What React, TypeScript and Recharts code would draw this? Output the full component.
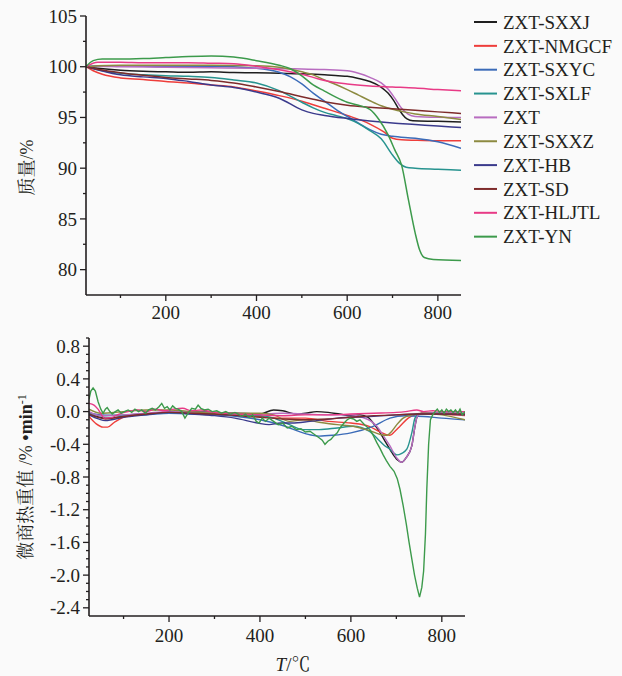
import React from 'react';
import { LineChart, Line, XAxis, YAxis, Legend } from 'recharts';

type Pt = [number, number];

// ---------- names ----------
const NAMES = ['ZXT-SXXJ', 'ZXT-NMGCF', 'ZXT-SXYC', 'ZXT-SXLF', 'ZXT', 'ZXT-SXXZ', 'ZXT-HB', 'ZXT-SD', 'ZXT-HLJTL', 'ZXT-YN'];
const COLORS = ['#1e1e1e', '#ee3d3a', '#3b6bb8', '#27938f', '#b86cc0', '#8c8a40', '#3a3a8c', '#7e2b2b', '#e83a86', '#3c9a4b'];

// ---------- ticks ----------
const TEMP_TICKS = [100, 200, 300, 400, 500, 600, 700, 800];
const TG_TICKS = [80, 82.5, 85, 87.5, 90, 92.5, 95, 97.5, 100, 102.5, 105];
const DTG_TICKS = [0.9, 0.8, 0.7, 0.6, 0.5, 0.4, 0.3, 0.2, 0.1, 0, -0.1, -0.2, -0.3, -0.4, -0.5, -0.6, -0.7, -0.8, -0.9, -1.0, -1.1, -1.2, -1.3, -1.4, -1.5, -1.6, -1.7, -1.8, -1.9, -2.0, -2.1, -2.2, -2.3, -2.4];

// ---------- TG: [T, mass %] ----------
const TG_SXXJ: Pt[] = [[24, 100], [50, 99.85], [100, 99.65], [150, 99.55], [200, 99.5], [250, 99.45], [300, 99.5], [350, 99.42], [400, 99.4], [450, 99.35], [500, 99.3], [550, 99.2], [580, 99.1], [600, 99.05], [625, 98.85], [650, 98.55], [673, 98.05], [690, 97.4], [702, 96.7], [712, 95.95], [722, 95.3], [732, 94.85], [745, 94.67], [800, 94.62], [851, 94.55]];
const TG_NMGCF: Pt[] = [[24, 100], [40, 99.6], [60, 99.25], [100, 98.9], [150, 98.75], [200, 98.55], [250, 98.4], [300, 98.2], [350, 98.0], [400, 97.6], [450, 97.15], [500, 96.6], [525, 96.25], [550, 95.9], [600, 95.2], [650, 94.35], [680, 93.6], [700, 92.95], [720, 92.8], [750, 92.75], [800, 92.7], [851, 92.7]];
const TG_SXYC: Pt[] = [[24, 100], [50, 100.1], [100, 100.1], [200, 100.0], [300, 100.05], [400, 99.85], [450, 99.45], [475, 99.0], [500, 98.3], [525, 97.4], [550, 96.6], [575, 95.8], [600, 95.1], [625, 94.45], [650, 93.8], [675, 93.35], [700, 93.15], [750, 92.95], [800, 92.6], [851, 91.95]];
const TG_SXLF: Pt[] = [[24, 100], [50, 99.7], [100, 99.35], [150, 99.2], [200, 99.1], [250, 99.05], [300, 98.95], [350, 98.7], [400, 98.4], [450, 97.65], [500, 96.5], [525, 95.95], [550, 95.5], [575, 95.2], [600, 94.9], [625, 94.4], [650, 93.7], [675, 92.9], [700, 91.3], [715, 90.5], [730, 90.1], [750, 90.0], [800, 89.9], [851, 89.8]];
const TG_ZXT: Pt[] = [[24, 100], [50, 100.05], [100, 100.0], [200, 99.95], [300, 99.9], [400, 99.85], [450, 99.8], [500, 99.78], [550, 99.72], [600, 99.6], [625, 99.35], [650, 98.95], [675, 98.4], [690, 97.8], [705, 96.9], [720, 95.9], [735, 95.3], [750, 95.1], [800, 95.02], [851, 95.0]];
const TG_SXXZ: Pt[] = [[24, 100], [50, 100.1], [100, 100.15], [200, 100.15], [300, 100.15], [400, 100.1], [450, 99.95], [475, 99.75], [500, 99.5], [525, 99.2], [550, 98.7], [575, 98.25], [600, 97.75], [625, 97.2], [650, 96.65], [675, 96.15], [700, 95.8], [725, 95.55], [750, 95.35], [800, 95.1], [851, 94.8]];
const TG_HB: Pt[] = [[24, 100], [50, 99.7], [100, 99.2], [150, 99.0], [200, 98.85], [250, 98.55], [300, 98.2], [350, 97.95], [400, 97.5], [450, 96.9], [500, 95.75], [525, 95.4], [550, 95.2], [600, 94.9], [650, 94.65], [700, 94.45], [750, 94.3], [800, 94.15], [851, 94.0]];
const TG_SD: Pt[] = [[24, 100], [50, 99.75], [100, 99.4], [150, 99.15], [200, 98.95], [250, 98.8], [300, 98.65], [350, 98.4], [400, 98.0], [450, 97.55], [500, 97.05], [525, 96.8], [550, 96.55], [600, 96.2], [650, 96.0], [700, 95.85], [750, 95.7], [800, 95.55], [851, 95.4]];
const TG_HLJTL: Pt[] = [[24, 100], [50, 100.45], [100, 100.45], [150, 100.4], [200, 100.4], [250, 100.4], [300, 100.35], [350, 100.3], [400, 100.05], [450, 99.7], [500, 99.25], [525, 98.95], [550, 98.65], [600, 98.3], [650, 98.1], [700, 98.0], [750, 97.9], [800, 97.75], [851, 97.62]];
const TG_YN: Pt[] = [[24, 100], [40, 100.6], [60, 100.75], [100, 100.75], [150, 100.8], [200, 100.9], [250, 101.0], [300, 101.05], [350, 100.95], [400, 100.6], [450, 100.15], [475, 99.8], [500, 99.1], [525, 98.2], [550, 97.6], [575, 97.0], [600, 96.5], [625, 96.2], [650, 95.8], [670, 94.8], [690, 93.3], [705, 91.8], [720, 90.3], [735, 86.9], [750, 83.6], [760, 81.9], [770, 81.2], [790, 81.0], [851, 80.9]];

// ---------- DTG: [T, %/min] ----------
const DTG_SXXJ: Pt[] = [[24, -0.03], [40, -0.06], [60, -0.08], [100, -0.06], [150, -0.03], [200, -0.01], [250, 0.0], [300, -0.01], [350, -0.02], [400, -0.03], [430, 0.02], [450, 0.01], [480, -0.03], [500, -0.02], [525, 0.0], [550, -0.01], [575, -0.03], [600, -0.05], [620, -0.04], [638, -0.07], [649, -0.14], [660, -0.22], [675, -0.36], [690, -0.5], [702, -0.59], [712, -0.62], [722, -0.56], [734, -0.42], [741, -0.18], [746, -0.06], [755, -0.02], [800, -0.02], [851, -0.03]];
const DTG_NMGCF: Pt[] = [[24, -0.06], [40, -0.15], [55, -0.19], [65, -0.19], [80, -0.13], [100, -0.07], [150, -0.03], [200, -0.01], [250, -0.02], [300, -0.04], [350, -0.04], [400, -0.06], [450, -0.08], [500, -0.08], [550, -0.12], [600, -0.14], [640, -0.18], [665, -0.25], [686, -0.29], [697, -0.24], [708, -0.18], [726, -0.08], [741, -0.04], [760, -0.02], [800, -0.03], [851, -0.05]];
const DTG_SXYC: Pt[] = [[24, -0.02], [50, -0.04], [100, -0.05], [150, -0.04], [200, -0.02], [250, -0.03], [300, -0.04], [350, -0.06], [400, -0.1], [450, -0.17], [500, -0.27], [530, -0.3], [560, -0.29], [600, -0.26], [649, -0.18], [686, -0.08], [720, -0.05], [760, -0.06], [800, -0.08], [851, -0.1]];
const DTG_SXLF: Pt[] = [[24, -0.01], [50, -0.05], [100, -0.04], [150, -0.03], [200, -0.01], [250, -0.02], [300, -0.03], [350, -0.04], [400, -0.05], [430, -0.08], [465, -0.16], [495, -0.22], [530, -0.22], [570, -0.2], [605, -0.18], [640, -0.24], [660, -0.34], [675, -0.42], [686, -0.46], [701, -0.53], [712, -0.51], [723, -0.46], [734, -0.26], [741, -0.08], [750, -0.03], [800, -0.02], [851, -0.02]];
const DTG_ZXT: Pt[] = [[24, 0.0], [50, -0.05], [100, -0.04], [150, -0.02], [200, 0.0], [300, -0.01], [400, -0.03], [450, -0.02], [500, -0.03], [550, -0.04], [600, -0.04], [625, -0.07], [645, -0.12], [657, -0.18], [672, -0.3], [686, -0.42], [700, -0.56], [712, -0.62], [722, -0.56], [734, -0.42], [741, -0.18], [746, -0.06], [755, -0.02], [800, -0.02], [851, -0.02]];
const DTG_SXXZ: Pt[] = [[24, 0.03], [50, -0.02], [100, 0.0], [150, 0.02], [200, 0.02], [250, 0.0], [300, -0.02], [350, -0.02], [400, -0.02], [430, -0.04], [465, -0.12], [495, -0.1], [530, -0.13], [570, -0.16], [605, -0.18], [640, -0.23], [665, -0.28], [679, -0.29], [690, -0.24], [701, -0.16], [715, -0.08], [734, -0.04], [760, -0.02], [800, -0.04], [851, -0.1]];
const DTG_HB: Pt[] = [[24, -0.04], [45, -0.09], [60, -0.11], [100, -0.07], [150, -0.04], [200, -0.01], [250, -0.03], [300, -0.05], [345, -0.08], [395, -0.14], [420, -0.16], [445, -0.14], [470, -0.14], [510, -0.12], [570, -0.08], [640, -0.06], [700, -0.04], [750, -0.03], [800, -0.03], [851, -0.04]];
const DTG_SD: Pt[] = [[24, -0.03], [45, -0.07], [60, -0.09], [100, -0.06], [150, -0.03], [200, -0.01], [250, -0.02], [300, -0.03], [350, -0.05], [400, -0.07], [450, -0.09], [500, -0.1], [550, -0.09], [600, -0.07], [650, -0.05], [700, -0.04], [750, -0.03], [800, -0.03], [851, -0.03]];
const DTG_HLJTL: Pt[] = [[24, 0.1], [35, 0.08], [45, 0.02], [58, -0.08], [75, -0.07], [90, -0.03], [110, 0.0], [130, 0.02], [150, 0.0], [170, 0.03], [190, 0.01], [210, 0.03], [230, 0.04], [250, 0.01], [270, 0.02], [300, -0.01], [350, -0.03], [400, -0.04], [450, -0.05], [500, -0.04], [550, -0.04], [600, -0.03], [650, -0.02], [700, -0.01], [720, 0.0], [745, 0.02], [760, 0.0], [780, 0.01], [800, 0.0], [851, 0.0]];
const DTG_YN: Pt[] = [[24, 0.15], [28, 0.25], [33, 0.29], [38, 0.25], [44, 0.12], [50, 0.03], [55, -0.02], [60, 0.03], [64, 0.05], [70, 0.0], [75, -0.03], [82, 0.0], [88, 0.02], [95, -0.02], [102, 0.0], [110, 0.02], [118, -0.01], [125, 0.03], [133, 0.0], [140, 0.02], [148, -0.02], [155, 0.02], [163, 0.04], [170, 0.02], [178, 0.06], [184, 0.1], [190, 0.04], [196, 0.06], [202, 0.02], [208, 0.07], [214, 0.04], [220, 0.03], [228, 0.0], [235, -0.08], [242, -0.02], [250, 0.04], [258, 0.03], [264, 0.08], [270, 0.04], [278, 0.02], [286, 0.03], [295, 0.0], [305, 0.01], [315, -0.02], [325, 0.0], [335, -0.03], [345, -0.01], [352, -0.03], [360, -0.06], [368, -0.03], [376, -0.07], [384, -0.04], [392, -0.12], [398, -0.14], [405, -0.08], [412, -0.12], [420, -0.08], [430, -0.12], [440, -0.16], [450, -0.14], [460, -0.2], [470, -0.18], [480, -0.22], [490, -0.21], [500, -0.25], [510, -0.24], [520, -0.28], [530, -0.32], [537, -0.35], [543, -0.4], [550, -0.36], [556, -0.34], [562, -0.3], [570, -0.26], [576, -0.2], [585, -0.14], [592, -0.1], [598, -0.08], [606, -0.09], [613, -0.12], [620, -0.1], [630, -0.16], [642, -0.22], [650, -0.3], [657, -0.38], [664, -0.45], [671, -0.53], [678, -0.6], [686, -0.67], [695, -0.73], [702, -0.82], [708, -0.95], [715, -1.15], [722, -1.38], [728, -1.6], [734, -1.8], [740, -2.0], [746, -2.16], [751, -2.27], [756, -2.15], [760, -1.95], [764, -1.5], [767, -0.95], [771, -0.4], [775, -0.1], [780, -0.04], [785, 0.0], [790, 0.03], [795, -0.01], [800, 0.02], [805, -0.02], [810, 0.03], [815, 0.0], [820, 0.02], [825, -0.01], [830, 0.02], [835, -0.02], [840, 0.03], [845, -0.04], [851, 0.0]];

const TG = [TG_SXXJ, TG_NMGCF, TG_SXYC, TG_SXLF, TG_ZXT, TG_SXXZ, TG_HB, TG_SD, TG_HLJTL, TG_YN];
const DTG = [DTG_SXXJ, DTG_NMGCF, DTG_SXYC, DTG_SXLF, DTG_ZXT, DTG_SXXZ, DTG_HB, DTG_SD, DTG_HLJTL, DTG_YN];

const toData = (pts: Pt[]) => pts.map(([t, v]) => ({ t, v }));

// ---------- styling ----------
const INK = '#231f20';
const SERIF = "'Liberation Serif', 'DejaVu Serif', serif";
const CJK = "'Liberation Serif', 'Noto Serif CJK SC', 'Noto Sans CJK SC', serif";
const FS = 19;
const TICK_SIZE = 6;

const makeYTick = (isMajor: (v: number) => boolean, fmt: (v: number) => string, margin: number) => (props: any) => {
  const { x, y, payload } = props;
  const v = payload.value as number;
  const major = isMajor(v);
  const ax = x + TICK_SIZE + margin;
  const len = major ? 6 : 3;
  return (
    <g>
      <line x1={ax - len} x2={ax} y1={y} y2={y} stroke={INK} strokeWidth={1.3} />
      {major && (
        <text x={x} y={y} dy="0.35em" textAnchor="end" style={{ fontFamily: SERIF }} fontSize={FS} fill={INK}>
          {fmt(v)}
        </text>
      )}
    </g>
  );
};

const makeXTick = (margin: number) => (props: any) => {
  const { x, y, payload } = props;
  const v = payload.value as number;
  const major = v % 200 === 0;
  const ay = y - TICK_SIZE - margin;
  const len = major ? 6 : 3;
  return (
    <g>
      <line x1={x} x2={x} y1={ay} y2={ay + len} stroke={INK} strokeWidth={1.3} />
      {major && (
        <text x={x} y={y} dy="0.71em" textAnchor="middle" style={{ fontFamily: SERIF }} fontSize={FS} fill={INK}>
          {v}
        </text>
      )}
    </g>
  );
};

const TopYLabel = (props: any) => {
  const vb = props.viewBox || {};
  const cx = (vb.x || 0) + 27;
  const cy = (vb.y || 0) + (vb.height || 0) / 2 + 12;
  return (
    <text x={cx} y={cy} transform={`rotate(-90 ${cx} ${cy})`} textAnchor="middle" dy="0.35em" style={{ fontFamily: CJK }} fontSize={18} fill={INK}>
      质量/%
    </text>
  );
};

const BottomYLabel = (props: any) => {
  const vb = props.viewBox || {};
  const cx = (vb.x || 0) + 26;
  const cy = (vb.y || 0) + (vb.height || 0) / 2;
  return (
    <text x={cx} y={cy} transform={`rotate(-90 ${cx} ${cy})`} textAnchor="middle" dy="0.35em" style={{ fontFamily: CJK }} fontSize={18} fill={INK}>
      <tspan>微商热重值 /%</tspan>
      <tspan fontWeight="bold"> •min</tspan>
      <tspan fontSize={12} dy="-0.55em">-1</tspan>
    </text>
  );
};

const XLabel = (props: any) => {
  const vb = props.viewBox || {};
  const cx = (vb.x || 0) + (vb.width || 0) / 2 + 16;
  const cy = (vb.y || 0) + 55;
  return (
    <text x={cx} y={cy} textAnchor="middle" style={{ fontFamily: CJK }} fontSize={FS} fill={INK}>
      <tspan fontStyle="italic">T</tspan>
      <tspan>/℃</tspan>
    </text>
  );
};

const LegendBox = () => (
  <svg width={152} height={245}>
    {NAMES.map((n, i) => {
      const cy = 12 + i * 23.85;
      return (
        <g key={n}>
          <line x1={6} x2={29} y1={cy} y2={cy} stroke={COLORS[i]} strokeWidth={2} />
          <text x={35} y={cy} dy="0.35em" style={{ fontFamily: SERIF }} fontSize={FS} fill={INK}>
            {n}
          </text>
        </g>
      );
    })}
  </svg>
);

export default function App() {
  return (
    <div style={{ position: 'absolute', left: 0, top: 0, width: 622, height: 676, background: '#fafafa', fontFamily: SERIF }}>
      <div style={{ position: 'absolute', left: 0, top: 0 }}>
        <LineChart width={622} height={330} margin={{ top: 16, right: 161, bottom: 0, left: 0 }}>
          <XAxis
            dataKey="t"
            type="number"
            domain={[24, 851]}
            allowDataOverflow
            ticks={TEMP_TICKS}
            interval={0}
            height={35}
            tickSize={TICK_SIZE}
            tickMargin={5}
            tickLine={false}
            tick={makeXTick(5)}
            axisLine={{ stroke: INK, strokeWidth: 1.6 }}
          />
          <YAxis
            dataKey="v"
            type="number"
            domain={[77.5, 105]}
            allowDataOverflow
            ticks={TG_TICKS}
            interval={0}
            width={86}
            tickSize={TICK_SIZE}
            tickMargin={3}
            tickLine={false}
            tick={makeYTick((v) => v % 5 === 0, (v) => String(v), 3)}
            axisLine={{ stroke: INK, strokeWidth: 1.6 }}
            label={<TopYLabel />}
          />
          <Legend
            layout="vertical"
            align="center"
            verticalAlign="middle"
            content={() => <LegendBox />}
            wrapperStyle={{ left: 468, top: 10, width: 152, height: 245 }}
          />
          {TG.map((pts, i) => (
            <Line
              key={NAMES[i]}
              name={NAMES[i]}
              data={toData(pts)}
              dataKey="v"
              type="monotone"
              stroke={COLORS[i]}
              strokeWidth={1.5}
              dot={false}
              activeDot={false}
              isAnimationActive={false}
            />
          ))}
        </LineChart>
      </div>
      <div style={{ position: 'absolute', left: 0, top: 330 }}>
        <LineChart width={622} height={346} margin={{ top: 8, right: 157, bottom: 0, left: 0 }}>
          <XAxis
            dataKey="t"
            type="number"
            domain={[24, 851]}
            allowDataOverflow
            ticks={TEMP_TICKS}
            interval={0}
            height={60}
            tickSize={TICK_SIZE}
            tickMargin={7}
            tickLine={false}
            tick={makeXTick(7)}
            axisLine={{ stroke: INK, strokeWidth: 1.6 }}
            label={<XLabel />}
          />
          <YAxis
            dataKey="v"
            type="number"
            domain={[-2.5, 0.9]}
            allowDataOverflow
            ticks={DTG_TICKS}
            interval={0}
            width={89}
            tickSize={TICK_SIZE}
            tickMargin={3}
            tickLine={false}
            tick={makeYTick((v) => Math.round(v * 10) % 4 === 0, (v) => v.toFixed(1), 3)}
            axisLine={{ stroke: INK, strokeWidth: 1.6 }}
            label={<BottomYLabel />}
          />
          {DTG.map((pts, i) => (
            <Line
              key={NAMES[i]}
              name={NAMES[i]}
              data={toData(pts)}
              dataKey="v"
              type={i === 9 ? 'linear' : 'monotone'}
              stroke={COLORS[i]}
              strokeWidth={1.4}
              dot={false}
              activeDot={false}
              isAnimationActive={false}
            />
          ))}
        </LineChart>
      </div>
    </div>
  );
}
